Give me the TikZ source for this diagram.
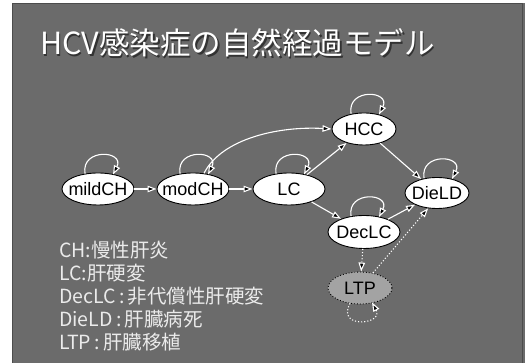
\documentclass[tikz,border=0pt]{standalone}
\usepackage{fontspec}
\setmainfont{Liberation Sans}
\newfontfamily\cjk{Noto Sans CJK JP}
\usetikzlibrary{shapes.geometric,arrows.meta}
\definecolor{slidebg}{HTML}{6B6B6B}
\definecolor{ltpfill}{HTML}{A3A3A3}
\newcommand{\lbl}[1]{\makebox[0pt]{#1}}
\tikzset{
  st/.style={ellipse,draw=black,fill=white,line width=0.9pt,inner sep=0pt,font=\fontsize{18}{18}\selectfont},
  edge/.style={draw=white,line width=1.1pt,-{Triangle[length=9pt,width=6.5pt,fill=black]}},
  dotedge/.style={edge,dotted},
  legend/.style={anchor=base west,text=white!92!black,font=\cjk\fontsize{19.5}{19.5}\selectfont,inner sep=0pt}
}
\begin{document}
\begin{tikzpicture}[x=1pt,y=1pt]
\useasboundingbox (0,0) rectangle (525,363);
\fill[white] (0,0) rectangle (525,363);
\fill[slidebg] (12,0) rectangle (525,360);
\draw[black!70,line width=1pt] (12.5,-1) -- (12.5,359.5) -- (522.5,359.5) -- (522.5,-1);
% title
\node[anchor=base west,inner sep=0pt,text=black!80,font=\cjk\fontsize{30.5}{30.5}\selectfont] (titleshadow) at (41.5,306.5) {HCV感染症の自然経過モデル};
\node[anchor=base west,inner sep=0pt,text=white,font=\cjk\fontsize{30.5}{30.5}\selectfont] (title) at (40,308) {HCV感染症の自然経過モデル};
% nodes
\node[st,minimum width=72pt,minimum height=32pt] (mildCH) at (98,174) {\lbl{mildCH}};
\node[st,minimum width=72pt,minimum height=32pt] (modCH) at (193,174) {\lbl{modCH}};
\node[st,minimum width=72pt,minimum height=32pt] (LC) at (289,174) {\lbl{LC}};
\node[st,minimum width=64pt,minimum height=32pt] (HCC) at (364,234) {\lbl{HCC}};
\node[st,minimum width=64pt,minimum height=31pt] (DieLD) at (437,170) {\lbl{DieLD}};
\node[st,minimum width=72pt,minimum height=33pt] (DecLC) at (364,131) {\lbl{DecLC}};
\node[st,dotted,fill=ltpfill,minimum width=64pt,minimum height=32pt] (LTP) at (360,75) {\lbl{LTP}};
% edges
\draw[edge] (mildCH) -- (modCH);
\draw[edge] (modCH) -- (LC);
\draw[edge] (modCH.55) .. controls (222,225) and (280,237) .. (HCC.west);
\draw[edge] (LC) -- (HCC);
\draw[edge] (LC) -- (DecLC);
\draw[edge] (HCC) -- (DieLD);
\draw[edge] (DecLC) -- (DieLD);
\draw[dotedge] (DecLC) -- (LTP);
\draw[dotedge] (LTP) -- (DieLD.-120);
% self loops
\foreach \n in {mildCH,modCH,LC,HCC,DieLD,DecLC}{
  \draw[edge] ([xshift=-13pt,yshift=-1pt]\n.north) .. controls +(-4,26) and +(12,24) .. ([xshift=15pt,yshift=-2pt]\n.north);
}
\draw[dotedge] ([xshift=-10pt,yshift=1pt]LTP.south) .. controls +(-14,-26) and +(12,-22) .. ([xshift=12pt,yshift=2pt]LTP.south);
% legend
\node[legend] (l1) at (59,105) {CH:慢性肝炎};
\node[legend] (l2) at (59,82) {LC:肝硬変};
\node[legend] (l3) at (59,59) {DecLC\,:\,非代償性肝硬変};
\node[legend] (l4) at (59,36) {DieLD\,:\,肝臓病死};
\node[legend] (l5) at (59,13) {LTP\,:\,肝臓移植};
\end{tikzpicture}
\end{document}
